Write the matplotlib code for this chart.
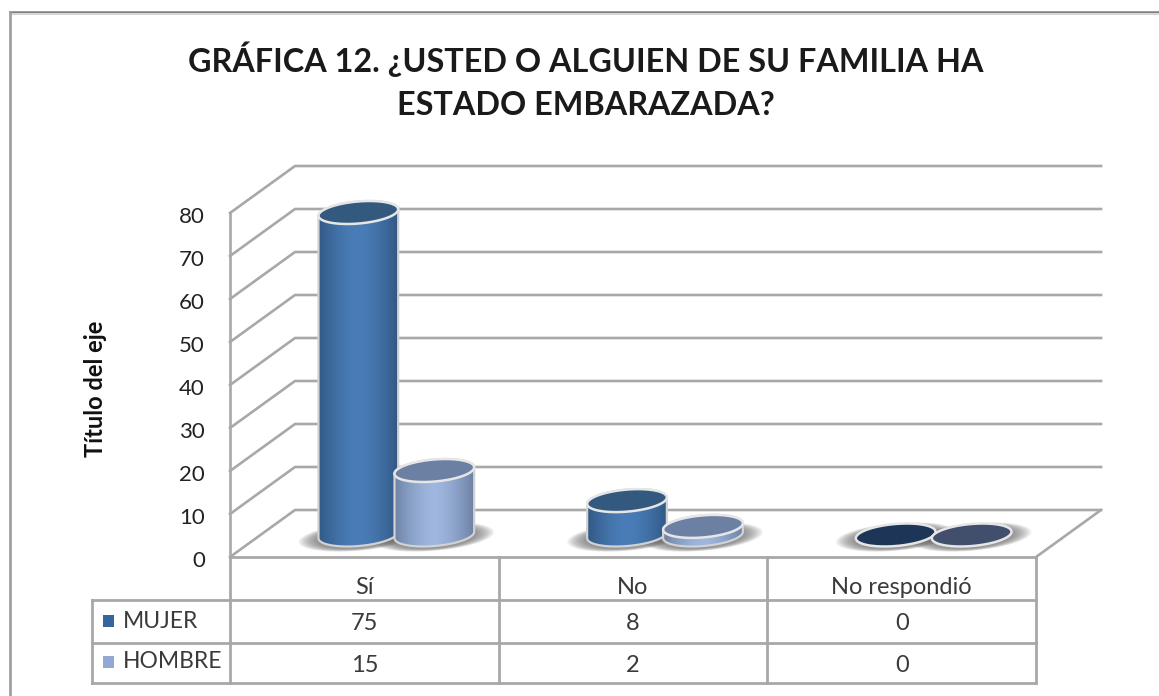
import matplotlib
matplotlib.use("Agg")
import matplotlib.pyplot as plt
from matplotlib.lines import Line2D
from matplotlib.patches import Polygon, Rectangle
from matplotlib.transforms import ScaledTranslation
import numpy as np

plt.rcParams['font.family'] = ['Lato', 'DejaVu Sans']

categories = ['Sí', 'No', 'No respondió']
mujer = [75, 8, 0]
hombre = [15, 2, 0]
series_names = ['MUJER', 'HOMBRE']
y_ticks = [0, 10, 20, 30, 40, 50, 60, 70, 80]
title = 'GRÁFICA 12. ¿USTED O ALGUIEN DE SU FAMILIA HA\nESTADO EMBARAZADA?'
y_label = 'Título del eje'

W, H = 1159, 696
GRID = '#a8a8a8'
TEXT = '#3a3a3a'

fig = plt.figure(figsize=(W / 100, H / 100), dpi=100, facecolor='white')
# frente del grafico: x 230-1036 px, y 213-557 px
ax = fig.add_axes([230 / W, 1 - 557 / H, 806 / W, 344 / H])
ax.set_xlim(0, 3)
ax.set_ylim(0, 80)
ax.patch.set_visible(False)

ux = 806 / 3  # px por categoria
uy = 344 / 80  # px por unidad
dx = 65 / ux  # profundidad
dy = 47 / uy


def py(px):
    # px por debajo del cero -> unidades del eje y
    return (557 - px) / uy


def px_x(px):
    return (px - 230) / ux


def ellipse_pts(cx, cy, w=80, h=22, angle=5, t0=0, t1=2 * np.pi):
    t = np.linspace(t0, t1, 80)
    a = np.radians(angle)
    ex = w / 2 * np.cos(t)
    ey = h / 2 * np.sin(t)
    rx = ex * np.cos(a) - ey * np.sin(a)
    ry = ex * np.sin(a) + ey * np.cos(a)
    return np.column_stack([cx + rx / ux, cy + ry / uy])


def cylinder(cx, value, cmap_edge, cmap_mid, cap, z):
    base = 22 / uy
    top = base + value
    # sombra
    for s in np.linspace(1.5, 1.02, 12):
        ax.add_patch(Polygon(ellipse_pts(cx, base - 2 / uy, 80 * s, 22 * (1 + (s - 1) * 0.5)),
                             facecolor='#666666', edgecolor='none', alpha=0.09, zorder=3,
                             clip_on=False))
    if value > 0:
        upper = ellipse_pts(cx, top, t0=0, t1=np.pi)
        lower = ellipse_pts(cx, base, t0=np.pi, t1=2 * np.pi)
        body = Polygon(np.vstack([upper, lower]), facecolor='none',
                       edgecolor='#d2d2d2', lw=1.6, zorder=z + 0.2, clip_on=False)
        ax.add_patch(body)
        e = np.array(matplotlib.colors.to_rgb(cmap_edge))
        m = np.array(matplotlib.colors.to_rgb(cmap_mid))
        f = np.abs(np.linspace(-1, 1, 120))[None, :, None] ** 1.6
        img = m * (1 - f) + e * f
        im = ax.imshow(img, extent=[cx - 42 / ux, cx + 42 / ux, base - 16 / uy, top + 16 / uy],
                       aspect='auto', zorder=z, interpolation='bilinear', clip_on=True)
        clip = Polygon(np.vstack([upper, lower]), transform=ax.transData)
        im.set_clip_path(clip)
    ax.add_patch(Polygon(ellipse_pts(cx, top), facecolor=cap, edgecolor='#e6e6e6', lw=1.8,
                         zorder=z + 0.3, clip_on=False))


# paredes: lineas de rejilla
for v in y_ticks:
    ax.plot([0, dx, 3 + dx], [v, v + dy, v + dy], color=GRID, lw=1.9, zorder=1, clip_on=False)
# suelo
ax.plot([3, 3 + dx], [0, dy], color=GRID, lw=1.9, zorder=1, clip_on=False)
ax.plot([0, 3], [0, 0], color=GRID, lw=2, zorder=2, clip_on=False)

# cilindros
for i in range(len(categories)):
    xc = i + 0.5 + 32 / ux
    cylinder(xc - 38 / ux, mujer[i], '#2f5580', '#4a7db8',
             '#34597f' if mujer[i] else '#1d3657', 4 + i)
    cylinder(xc + 38 / ux, hombre[i], '#687d9f', '#9fb6de',
             '#6c80a3' if hombre[i] else '#414f6d', 4.5 + i)

# ejes
for s in ['top', 'right', 'bottom']:
    ax.spines[s].set_visible(False)
ax.spines['left'].set_color(GRID)
ax.spines['left'].set_linewidth(1.9)
ax.set_yticks(y_ticks)
ax.set_xticks([])
ax.tick_params(axis='y', length=0, pad=18, labelsize=16, labelcolor='#222222')
for label in ax.get_yticklabels():
    label.set_transform(label.get_transform() + ScaledTranslation(0, -2 / 100, fig.dpi_scale_trans))
fig.text(96 / W, 1 - 389 / H, y_label, rotation=90, ha='center', va='center',
         fontsize=17, fontweight='bold', color='#111111')

# tabla de datos
rows = [557, 600, 643, 683]
table_x = [i for i in range(len(categories) + 1)]
for x in table_x:
    ax.plot([x, x], [py(rows[0]), py(rows[-1])], color=GRID, lw=2, clip_on=False, zorder=2)
left = px_x(92)
ax.plot([left, left], [py(rows[1]), py(rows[-1])], color=GRID, lw=2, clip_on=False, zorder=2)
for r in rows[1:]:
    ax.plot([left, 3], [py(r), py(r)], color=GRID, lw=2, clip_on=False, zorder=2)

for i, c in enumerate(categories):
    ax.text(i + 0.5, py(588), c, ha='center', va='center', fontsize=17, color=TEXT, clip_on=False)
    ax.text(i + 0.5, py(623), str(mujer[i]), ha='center', va='center', fontsize=17, color=TEXT)
    ax.text(i + 0.5, py(665), str(hombre[i]), ha='center', va='center', fontsize=17, color=TEXT)

for name, col, yy in zip(series_names, ['#34659f', '#93a9d3'], [621, 662]):
    ax.add_patch(Rectangle((px_x(103), py(yy + 6)), 11 / ux, 12 / uy, facecolor=col,
                           edgecolor='none', clip_on=False, zorder=3))
    ax.text(px_x(123), py(yy), name, ha='left', va='center', fontsize=16.5, color=TEXT)

# titulo y marco
fig.text(586 / W, 1 - 81 / H, title, ha='center', va='center', fontsize=23.3,
         fontweight='bold', color='#1a1a1a', linespacing=1.6)
fig.add_artist(Line2D([10 / W, 1], [1 - 12 / H, 1 - 12 / H], color='#7f7f7f', lw=1.8))
fig.add_artist(Line2D([10 / W, 1], [1 - 14 / H, 1 - 14 / H], color='#d5d5d5', lw=1.5))
fig.add_artist(Line2D([10 / W, 10 / W], [0, 1 - 12 / H], color='#a0a0a0', lw=2))

ax.set_xlim(0, 3)
ax.set_ylim(0, 80)
fig.savefig('out.png', dpi=100)
